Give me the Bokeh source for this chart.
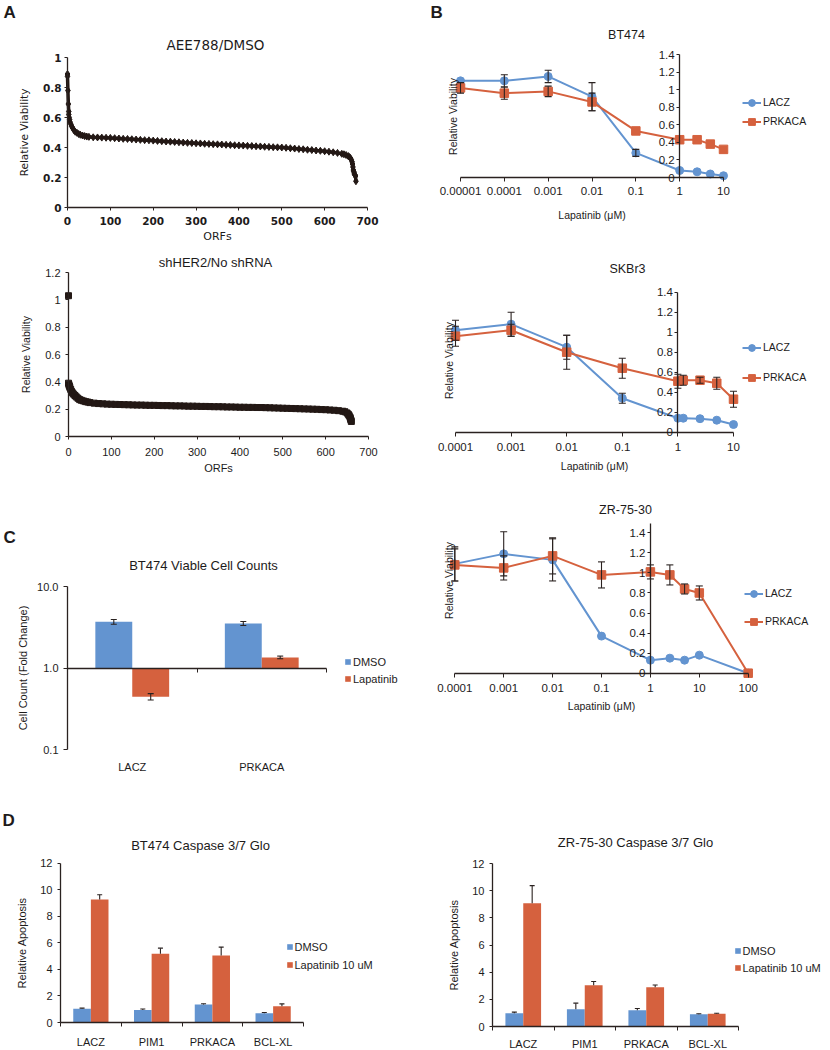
import math
from bokeh.plotting import figure
from bokeh.models import (Range1d, LinearAxis, LogAxis, FixedTicker, CustomJSTickFormatter,
                          Label, Legend, LegendItem, Whisker, TeeHead, ColumnDataSource)
from bokeh.layouts import row, column
from bokeh.embed import file_html
from bokeh.resources import INLINE

FONT = "Liberation Sans"
VFONT = "DejaVu Sans"
TXT = "#1d1b1b"
AXC = "#2a2220"
BLUE = "#6394d0"
ORANGE = "#d5613e"
DOT = "#231815"

# ---------------- data ----------------
A_XTICKS = [0, 100, 200, 300, 400, 500, 600, 700]
A1_YTICKS = [0, 0.2, 0.4, 0.6, 0.8, 1.0]
A2_YTICKS = [0, 0.2, 0.4, 0.6, 0.8, 1.0, 1.2]

A1_ORF = [0, 0, 1, 2, 3, 3, 4, 5, 6, 8, 10, 12, 15, 18, 22, 26, 30, 35, 40, 45, 50,
          60, 70, 80, 90, 100, 110, 120, 130, 140, 150, 160, 170, 180, 190, 200, 210, 220, 230,
          240, 250, 260, 270, 280, 290, 300, 310, 320, 330, 340, 350, 360, 370, 380, 390, 400,
          410, 420, 430, 440, 450, 460, 470, 480, 490, 500, 510, 520, 530, 540, 550, 560, 570,
          580, 590, 600, 610, 620, 630, 640,
          645, 650, 655, 658, 660, 662, 664, 665, 666, 667, 668, 669, 670, 671, 672, 673]
A1_VIAB = [0.89, 0.875, 0.78, 0.69, 0.64, 0.62, 0.60, 0.585, 0.57, 0.555, 0.54, 0.53, 0.515, 0.505,
           0.498, 0.49, 0.485, 0.48, 0.476, 0.473, 0.471,
           0.468, 0.467, 0.466, 0.465, 0.464, 0.462, 0.460, 0.458, 0.457, 0.455, 0.453, 0.451, 0.449,
           0.448, 0.446, 0.444, 0.442, 0.440, 0.439, 0.437, 0.435, 0.433, 0.431, 0.430, 0.428, 0.427,
           0.425, 0.424, 0.422, 0.421, 0.420, 0.418, 0.417, 0.415, 0.414, 0.413, 0.411, 0.410, 0.408,
           0.407, 0.405, 0.404, 0.402, 0.401, 0.400, 0.398, 0.395, 0.393, 0.390, 0.388, 0.385, 0.383,
           0.380, 0.378, 0.375, 0.372, 0.368, 0.364, 0.358,
           0.355, 0.350, 0.343, 0.336, 0.330, 0.320, 0.305, 0.290, 0.270, 0.250, 0.240, 0.230, 0.220,
           0.215, 0.210, 0.175]

A2_ORF = [0, 0, 1, 2, 3, 5, 7, 9, 12, 15, 18, 22, 26, 30, 35, 40, 45, 50,
          60, 70, 80, 90, 100, 110, 120, 130, 140, 150, 160, 170, 180, 190, 200, 210, 220, 230,
          240, 250, 260, 270, 280, 290, 300, 310, 320, 330, 340, 350, 360, 370, 380, 390, 400,
          410, 420, 430, 440, 450, 460, 470, 480, 490, 500, 510, 520, 530, 540, 550, 560, 570,
          580, 590, 600, 610, 620, 630, 640,
          645, 650, 653, 655, 657, 658, 659, 660]
A2_VIAB = [1.03, 0.39, 0.38, 0.37, 0.36, 0.345, 0.33, 0.32, 0.31, 0.30, 0.29, 0.28, 0.27, 0.265,
           0.26, 0.255, 0.252, 0.248,
           0.244, 0.241, 0.239, 0.237, 0.236, 0.235, 0.234, 0.233, 0.232, 0.231, 0.230, 0.230, 0.229,
           0.228, 0.228, 0.227, 0.226, 0.226, 0.225, 0.224, 0.224, 0.223, 0.222, 0.222, 0.221, 0.220,
           0.220, 0.219, 0.218, 0.218, 0.217, 0.216, 0.216, 0.215, 0.214, 0.214, 0.213, 0.213, 0.212,
           0.212, 0.211, 0.210, 0.209, 0.208, 0.207, 0.206, 0.205, 0.204, 0.203, 0.202, 0.201, 0.200,
           0.199, 0.197, 0.196, 0.194, 0.192, 0.189, 0.185,
           0.181, 0.172, 0.162, 0.152, 0.140, 0.130, 0.120, 0.110]

B_YTICKS = [0, 0.2, 0.4, 0.6, 0.8, 1.0, 1.2, 1.4]

BT_XTICKS = [1e-5, 1e-4, 1e-3, 1e-2, 0.1, 1, 10]
BT_CONC = [1e-5, 1e-4, 1e-3, 1e-2, 0.1, 1, 2.5, 5, 10]
BT_LACZ = [1.10, 1.10, 1.15, 0.92, 0.28, 0.08, 0.065, 0.04, 0.02]
BT_LACZ_ERR = [0.0, 0.07, 0.07, 0.16, 0.04, 0, 0, 0, 0]
BT_PRK = [1.02, 0.96, 0.98, 0.86, 0.53, 0.43, 0.43, 0.38, 0.32]
BT_PRK_ERR = [0.06, 0.07, 0.06, 0.10, 0, 0, 0, 0, 0]

SK_XTICKS = [1e-4, 1e-3, 1e-2, 0.1, 1, 10]
SK_CONC = [1e-4, 1e-3, 1e-2, 0.1, 1, 1.25, 2.5, 5, 10]
SK_LACZ = [1.02, 1.08, 0.85, 0.34, 0.14, 0.14, 0.135, 0.12, 0.077]
SK_LACZ_ERR = [0.10, 0.12, 0.12, 0.05, 0, 0, 0, 0, 0]
SK_PRK = [0.96, 1.02, 0.80, 0.64, 0.51, 0.52, 0.52, 0.49, 0.33]
SK_PRK_ERR = [0.10, 0.06, 0.17, 0.10, 0.07, 0.05, 0.03, 0.06, 0.08]

ZR_XTICKS = [1e-4, 1e-3, 1e-2, 0.1, 1, 10, 100]
ZR_CONC = [1e-4, 1e-3, 1e-2, 0.1, 1, 2.5, 5, 10, 100]
ZR_LACZ = [1.09, 1.19, 1.13, 0.37, 0.13, 0.15, 0.13, 0.18, 0.0]
ZR_LACZ_ERR = [0.17, 0.22, 0.21, 0, 0, 0, 0, 0, 0]
ZR_PRK = [1.08, 1.05, 1.17, 0.98, 1.01, 0.98, 0.84, 0.80, 0.0]
ZR_PRK_ERR = [0.16, 0.12, 0.18, 0.13, 0.07, 0.10, 0.05, 0.07, 0]

C_CATS = ["LACZ", "PRKACA"]
C_YTICKS = [0.1, 1, 10]
C_DMSO = [3.69, 3.52]
C_DMSO_ERR = [0.25, 0.20]
C_LAP = [0.445, 1.35]
C_LAP_ERR = [0.04, 0.05]

D_CATS = ["LACZ", "PIM1", "PRKACA", "BCL-XL"]
D_YTICKS = [0, 2, 4, 6, 8, 10, 12]
D1_DMSO = [1.03, 0.95, 1.36, 0.70]
D1_DMSO_ERR = [0.05, 0.07, 0.05, 0.05]
D1_LAP = [9.27, 5.17, 5.05, 1.23]
D1_LAP_ERR = [0.35, 0.43, 0.63, 0.17]
D2_DMSO = [0.98, 1.27, 1.20, 0.91]
D2_DMSO_ERR = [0.08, 0.45, 0.12, 0.03]
D2_LAP = [9.07, 3.04, 2.89, 0.93]
D2_LAP_ERR = [1.30, 0.27, 0.17, 0.05]


# ---------------- helpers ----------------
def inv(m, px, log):
    """data value that sits at page pixel px, given two anchor (value, pixel) pairs"""
    v0, p0, v1, p1 = m
    f = (lambda v: math.log10(v)) if log else (lambda v: v)
    s = (p1 - p0) / (f(v1) - f(v0))
    t = f(v0) + (px - p0) / s
    return 10 ** t if log else t


def make_fig(fx, fy, W, H, xm, ym, xlog=False, ylog=False):
    # the frame fills the whole figure; ranges are chosen so anchors land on their pixels
    xr = (inv(xm, fx, xlog), inv(xm, fx + W, xlog))
    yr = (inv(ym, fy + H, ylog), inv(ym, fy, ylog))
    p = figure(width=W, height=H, x_range=Range1d(*xr), y_range=Range1d(*yr),
               x_axis_type="log" if xlog else "linear",
               y_axis_type="log" if ylog else "linear",
               x_axis_location=None, y_axis_location=None,
               min_border=0, min_border_left=0, min_border_right=0,
               min_border_top=0, min_border_bottom=0,
               toolbar_location=None, output_backend="svg",
               outline_line_color=None, background_fill_color="white",
               border_fill_color="white")
    p.grid.visible = False
    return p, (fx, fy + H)


def trim_fmt():
    return CustomJSTickFormatter(code="const s = tick.toFixed(1); return s.endsWith('.0') ? s.slice(0, -2) : s;")


def conc_fmt():
    return CustomJSTickFormatter(code="if (tick >= 1) { return tick.toFixed(0); } return tick.toFixed(Math.round(-Math.log10(tick)));")


def add_axis(p, side, log=False, fixed=None, ticks=(), minor=(), bounds=None, fmt=None,
             size=11, font=FONT, bold=False, tick_out=3, minor_out=0, standoff=3,
             label=None, label_size=11, label_font=None, label_standoff=5, line=True):
    cls = LogAxis if log else LinearAxis
    ax = cls(ticker=FixedTicker(ticks=list(ticks), minor_ticks=list(minor)), fixed_location=fixed)
    if bounds is not None:
        ax.bounds = bounds
    if fmt is not None:
        ax.formatter = fmt
    ax.major_label_text_font = font
    ax.major_label_text_font_size = f"{size}px"
    ax.major_label_text_color = TXT
    ax.major_label_text_font_style = "bold" if bold else "normal"
    ax.major_tick_out = int(tick_out)
    ax.major_tick_in = 0
    ax.minor_tick_out = int(minor_out)
    ax.minor_tick_in = 0
    ax.major_tick_line_color = AXC
    ax.minor_tick_line_color = AXC
    ax.axis_line_color = AXC if line else None
    ax.axis_line_width = 1.3
    ax.major_label_standoff = int(round(standoff))
    if label:
        ax.axis_label = label
        ax.axis_label_text_font = label_font or font
        ax.axis_label_text_font_size = f"{label_size}px"
        ax.axis_label_text_font_style = "normal"
        ax.axis_label_text_color = TXT
        ax.axis_label_standoff = int(round(label_standoff))
    p.add_layout(ax, side)
    return ax


def txt(p, fr, px, py, text, size, font=FONT, align="center", bold=False, angle=0.0):
    p.add_layout(Label(x=px - fr[0], y=fr[1] - py, x_units="screen", y_units="screen",
                       text=text, text_font=font, text_font_size=f"{size}px", text_color=TXT,
                       text_align=align, text_baseline="middle",
                       text_font_style="bold" if bold else "normal", angle=angle))


def whiskers(p, xs, ys, errs, up_only=False, head=6):
    pts = [(x, y, e) for x, y, e in zip(xs, ys, errs) if e > 0]
    src = ColumnDataSource(dict(x=[a for a, _, _ in pts],
                                lo=[(b if up_only else b - e) for _, b, e in pts],
                                hi=[b + e for _, b, e in pts]))
    w = Whisker(source=src, base="x", lower="lo", upper="hi", dimension="height",
                line_color=AXC, line_width=1.1, level="overlay",
                upper_head=TeeHead(size=head, line_color=AXC, line_width=1.1),
                lower_head=None if up_only else TeeHead(size=head, line_color=AXC, line_width=1.1))
    p.add_layout(w)


def add_legend(p, fr, items, glyph_left, first_center, sep, gw, gh, size, h, standoff=2):
    spacing = sep - h
    top = first_center - h / 2
    bottom = top + 2 * h + spacing
    leg = Legend(items=items, location=(glyph_left - fr[0], fr[1] - bottom),
                 orientation="vertical", glyph_width=gw, glyph_height=gh, label_height=gh,
                 label_width=10, label_standoff=standoff, spacing=int(round(spacing)),
                 padding=0, margin=0, border_line_color=None, background_fill_alpha=0,
                 label_text_font=FONT, label_text_font_size=f"{size}px",
                 label_text_color=TXT)
    p.add_layout(leg)


# rows (page pixels): 0-254, 254-478, 478-790, 790-1048 ; columns: 0-420, 420-830
LW, RW = 420, 410

# ---------------- panel A ----------------
a1, f = make_fig(0, 0, LW, 254, (0, 67, 700, 367), (0, 207, 1, 57))
add_axis(a1, "left", fixed=0, ticks=A1_YTICKS, bounds=(0, 1), fmt=trim_fmt(), size=10.5,
         font=VFONT, bold=True, tick_out=3, standoff=3, label="Relative Viability",
         label_size=10.5, label_standoff=10)
add_axis(a1, "below", fixed=0, ticks=A_XTICKS, bounds=(0, 700), size=10.5, font=VFONT,
         bold=True, tick_out=3, standoff=6, label="ORFs", label_size=11, label_standoff=2)
a1.line(A1_ORF, A1_VIAB, line_width=3.5, color=DOT)
a1.scatter(A1_ORF, A1_VIAB, marker="diamond", size=7, color=DOT)
txt(a1, f, 215, 44, "AEE788/DMSO", 13.5, font=VFONT)
txt(a1, f, 3, 12, "A", 17, align="left", bold=True)

a2, f = make_fig(0, 254, LW, 224, (0, 68, 700, 368), (0, 436, 1.2, 272))
add_axis(a2, "left", fixed=0, ticks=A2_YTICKS, bounds=(0, 1.2), fmt=trim_fmt(), size=11,
         tick_out=3, standoff=5, label="Relative Viability", label_size=10.5, label_standoff=10)
add_axis(a2, "below", fixed=0, ticks=A_XTICKS, bounds=(0, 700), size=11, tick_out=3,
         standoff=8, label="ORFs", label_size=11, label_standoff=3)
a2.line(A2_ORF[1:], A2_VIAB[1:], line_width=4, color=DOT)
a2.scatter(A2_ORF, A2_VIAB, marker="square", size=6, color=DOT)
txt(a2, f, 215, 262, "shHER2/No shRNA", 13)


# ---------------- panel B ----------------
def dose_panel(fx, fy, W, H, xm, ym, ybounds, xticks, conc, lacz, lacz_err, prk, prk_err,
               title, title_xy, leg_x, leg_y, leg_sep, ylab_xy, lab_standoff, axlab_standoff):
    p, fr = make_fig(fx, fy, W, H, xm, ym, xlog=True)
    add_axis(p, "left", fixed=1, ticks=B_YTICKS, bounds=ybounds, fmt=trim_fmt(), size=11.5,
             tick_out=3, standoff=2)
    add_axis(p, "below", log=True, fixed=0, ticks=xticks, bounds=(xticks[0], xticks[-1]),
             fmt=conc_fmt(), size=11.5, tick_out=4, standoff=lab_standoff,
             label="Lapatinib (\u03bcM)", label_size=10.5, label_standoff=axlab_standoff)
    whiskers(p, conc, lacz, lacz_err, head=7)
    whiskers(p, conc, prk, prk_err, head=7)
    l1 = p.line(conc, lacz, line_color=BLUE, line_width=2)
    s1 = p.scatter(conc, lacz, marker="circle", size=8, fill_color=BLUE, line_color=BLUE)
    l2 = p.line(conc, prk, line_color=ORANGE, line_width=2)
    s2 = p.scatter(conc, prk, marker="square", size=8.5, fill_color=ORANGE, line_color=ORANGE)
    add_legend(p, fr, [LegendItem(label="LACZ", renderers=[l1, s1]),
                       LegendItem(label="PRKACA", renderers=[l2, s2])],
               leg_x, leg_y, leg_sep, 19, 17, 10.5, 17)
    txt(p, fr, title_xy[0], title_xy[1], title, 12.5)
    txt(p, fr, ylab_xy[0], ylab_xy[1], "Relative Viability", 10.5, angle=math.pi / 2)
    return p, fr


b1, f = dose_panel(LW, 0, RW, 254, (1e-5, 460, 10, 723), (0, 177, 1.4, 54), (0, 1.4), BT_XTICKS,
                   BT_CONC, BT_LACZ, BT_LACZ_ERR, BT_PRK, BT_PRK_ERR,
                   "BT474", (626, 34), 742, 102.5, 18.5, (452, 116), 5, 11)
txt(b1, f, 430, 12, "B", 17, align="left", bold=True)

b2, f = dose_panel(LW, 254, RW, 224, (1e-4, 455, 10, 733), (0, 431.7, 1.4, 291.7), (0, 1.4),
                   SK_XTICKS, SK_CONC, SK_LACZ, SK_LACZ_ERR, SK_PRK, SK_PRK_ERR,
                   "SKBr3", (627, 268), 742, 347, 30, (448, 360), 7, 5)

b3, f = dose_panel(LW, 478, RW, 312, (1e-4, 454.3, 100, 747.7), (0, 672.7, 1.4, 532.3), (0, 1.49),
                   ZR_XTICKS, ZR_CONC, ZR_LACZ, ZR_LACZ_ERR, ZR_PRK, ZR_PRK_ERR,
                   "ZR-75-30", (625, 509), 744, 593, 28, (448, 580), 7, 4)


# ---------------- panel C ----------------
c, f = make_fig(0, 478, LW, 312, (0, 67, 2, 326), (0.1, 749, 10, 586), ylog=True)
add_axis(c, "left", log=True, fixed=0, ticks=C_YTICKS, bounds=(0.1, 10),
         fmt=CustomJSTickFormatter(code="return tick.toFixed(1);"), size=11, tick_out=4,
         standoff=5, label="Cell Count (Fold Change)", label_size=11, label_standoff=5)
add_axis(c, "below", fixed=1, ticks=[], minor=list(range(len(C_CATS) + 1)),
         bounds=(0, len(C_CATS)), tick_out=0, minor_out=4)
add_axis(c, "below", fixed=0.1, ticks=[i + 0.5 for i in range(len(C_CATS))],
         fmt=CustomJSTickFormatter(args=dict(cats=C_CATS), code="return cats[Math.floor(tick)];"),
         size=11, tick_out=0, standoff=11, line=False)
cw = 0.285
cx1 = [i + 0.5 - cw / 2 for i in range(len(C_CATS))]
cx2 = [i + 0.5 + cw / 2 for i in range(len(C_CATS))]
cb1 = c.vbar(x=cx1, top=C_DMSO, bottom=1, width=cw, fill_color=BLUE, line_color=None)
cb2 = c.vbar(x=cx2, top=C_LAP, bottom=1, width=cw, fill_color=ORANGE, line_color=None)
whiskers(c, cx1, C_DMSO, C_DMSO_ERR, head=6)
whiskers(c, cx2, C_LAP, C_LAP_ERR, head=6)
add_legend(c, f, [LegendItem(label="DMSO", renderers=[cb1]),
                  LegendItem(label="Lapatinib", renderers=[cb2])],
           344, 660, 18, 7, 7, 11, 13)
txt(c, f, 203, 565, "BT474 Viable Cell Counts", 13)
txt(c, f, 3, 537, "C", 17, align="left", bold=True)


# ---------------- panel D ----------------
def apop_panel(fx, fy, W, H, xm, ym, dmso, dmso_err, lap, lap_err, title, title_xy,
               leg_x, leg_y, leg_sep, cat_standoff, letter=None):
    p, fr = make_fig(fx, fy, W, H, xm, ym)
    add_axis(p, "left", fixed=0, ticks=D_YTICKS, bounds=(0, 12), size=11, tick_out=3,
             standoff=5, label="Relative Apoptosis", label_size=11, label_standoff=9)
    add_axis(p, "below", fixed=0, ticks=[i + 0.5 for i in range(len(D_CATS))],
             minor=list(range(len(D_CATS) + 1)), bounds=(0, len(D_CATS)),
             fmt=CustomJSTickFormatter(args=dict(cats=D_CATS), code="return cats[Math.floor(tick)];"),
             size=11, tick_out=0, minor_out=4, standoff=cat_standoff)
    w = 0.29
    x1 = [i + 0.5 - w / 2 for i in range(len(D_CATS))]
    x2 = [i + 0.5 + w / 2 for i in range(len(D_CATS))]
    r1 = p.vbar(x=x1, top=dmso, bottom=0, width=w, fill_color=BLUE, line_color=None)
    r2 = p.vbar(x=x2, top=lap, bottom=0, width=w, fill_color=ORANGE, line_color=None)
    whiskers(p, x1, dmso, dmso_err, up_only=True, head=5)
    whiskers(p, x2, lap, lap_err, up_only=True, head=5)
    add_legend(p, fr, [LegendItem(label="DMSO", renderers=[r1]),
                       LegendItem(label="Lapatinib 10 uM", renderers=[r2])],
               leg_x, leg_y, leg_sep, 7, 7, 11, 13)
    txt(p, fr, title_xy[0], title_xy[1], title, 13)
    if letter:
        txt(p, fr, 2, 820, letter, 17, align="left", bold=True)
    return p


d1 = apop_panel(0, 790, LW, 258, (0, 60, 4, 303), (0, 1022, 12, 862.7),
                D1_DMSO, D1_DMSO_ERR, D1_LAP, D1_LAP_ERR, "BT474 Caspase 3/7 Glo", (200, 845),
                285.5, 945, 19, 9, letter="D")
d2 = apop_panel(LW, 790, RW, 258, (0, 492, 4, 738), (0, 1026, 12, 863),
                D2_DMSO, D2_DMSO_ERR, D2_LAP, D2_LAP_ERR, "ZR-75-30 Caspase 3/7 Glo", (635, 842),
                733.5, 949, 18, 7)

layout = column(row(a1, b1), row(a2, b2), row(c, b3), row(d1, d2))
open("out.html", "w").write(file_html(layout, INLINE))
